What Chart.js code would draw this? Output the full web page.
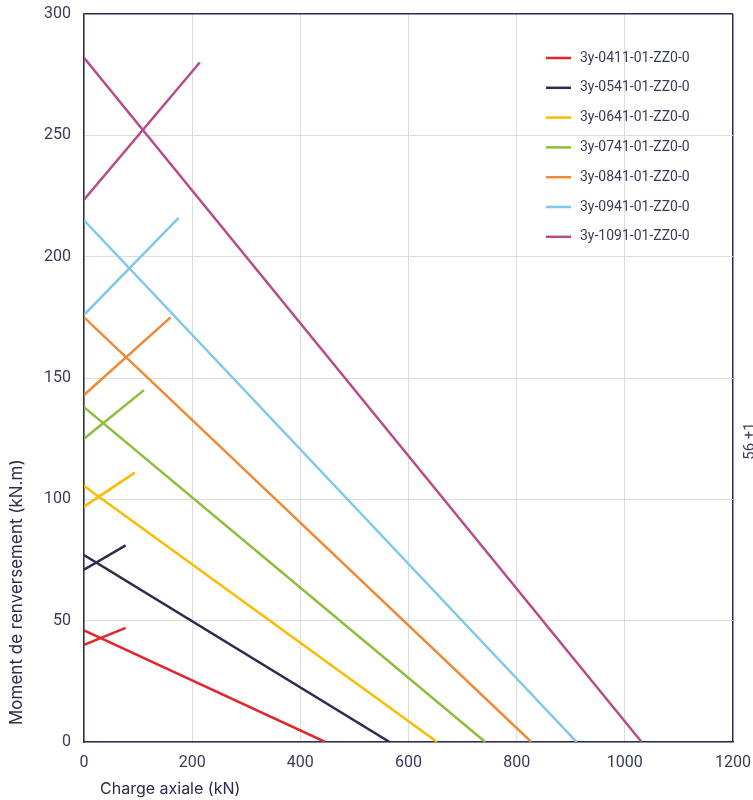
<!DOCTYPE html>
<html lang="fr">
  <head>
    <meta charset="UTF-8" />
    <title>Moment de renversement / charge axiale</title>
    <style>
      html, body { margin: 0; padding: 0; background: #fff; }
      #wrap { width: 753px; height: 800px; }
    </style>
  </head>
  <body>
    <div id="wrap"><canvas id="myChart" width="753" height="800"></canvas></div>

    <script src="https://cdn.jsdelivr.net/npm/chart.js@4.4.1/dist/chart.umd.min.js"></script>
    <script>
      // one entry per model
      var models = [
        "3y-0411-01-ZZ0-0",
        "3y-0541-01-ZZ0-0",
        "3y-0641-01-ZZ0-0",
        "3y-0741-01-ZZ0-0",
        "3y-0841-01-ZZ0-0",
        "3y-0941-01-ZZ0-0",
        "3y-1091-01-ZZ0-0",
      ];
      // falling line: moment at zero load (kN.m) and load at zero moment (kN)
      var fallMoment = [46, 77, 105.5, 138, 175, 215, 282];
      var fallLoad = [446, 565, 653, 742, 827, 911, 1031];
      // rising line: moment at zero load, end load, end moment
      var riseMoment = [40, 71, 97, 125, 143, 176, 223.5];
      var riseLoad = [77, 77, 94, 111, 160, 175, 214];
      var riseEndMoment = [47, 81, 111, 145, 175, 216, 280];

      var xTicks = [0, 200, 400, 600, 800, 1000, 1200];
      var yTicks = [0, 50, 100, 150, 200, 250, 300];

      var colors = ["#e3262b", "#2b2c4e", "#fbbb00", "#8cbd3f", "#f08935", "#7dc8ec", "#b84c8b"];
      var ink = "#3a3a5c";
      var navy = "#2b2c50";

      var datasets = [];
      for (let i = 0; i < models.length; i++) {
        datasets.push({
          label: models[i],
          data: [{ x: 0, y: fallMoment[i] }, { x: fallLoad[i], y: 0 }],
          borderColor: colors[i],
          backgroundColor: colors[i],
          borderWidth: 2.5,
          pointRadius: 0,
        });
        datasets.push({
          label: models[i] + " ",
          data: [{ x: 0, y: riseMoment[i] }, { x: riseLoad[i], y: riseEndMoment[i] }],
          borderColor: colors[i],
          backgroundColor: colors[i],
          borderWidth: 2.5,
          pointRadius: 0,
        });
      }

      // legend drawn inside the plot, top right
      var insideLegend = {
        id: "insideLegend",
        afterDraw: function (chart) {
          var ctx = chart.ctx;
          var area = chart.chartArea;
          var x0 = area.right - 187;
          ctx.save();
          ctx.font = "14px Roboto";
          ctx.textBaseline = "middle";
          for (let i = 0; i < models.length; i++) {
            var y = area.top + 44 + i * 29.8;
            ctx.strokeStyle = colors[i];
            ctx.lineWidth = 2.5;
            ctx.beginPath();
            ctx.moveTo(x0, y);
            ctx.lineTo(x0 + 25, y);
            ctx.stroke();
            ctx.fillStyle = ink;
            ctx.fillText(models[i], x0 + 34, y);
          }
          // cropped side note
          ctx.translate(750, 441);
          ctx.rotate(-Math.PI / 2);
          ctx.textAlign = "center";
          ctx.font = "15px Roboto";
          ctx.fillText("56 +1", 0, 0);
          ctx.restore();
        },
      };

      var ctx = document.getElementById("myChart").getContext("2d");
      var myChart = new Chart(ctx, {
        type: "line",
        data: { datasets: datasets },
        plugins: [insideLegend],
        options: {
          responsive: false,
          animation: false,
          layout: { padding: { top: 14, right: 20, left: 0, bottom: 0 } },
          plugins: {
            legend: { display: false },
            tooltip: { enabled: false },
          },
          scales: {
            x: {
              type: "linear",
              min: 0,
              max: 1200,
              afterBuildTicks: function (axis) {
                axis.ticks = xTicks.map(function (v) { return { value: v }; });
              },
              afterFit: function (axis) {
                axis.height = 58;
                axis.paddingLeft = 0;
                axis.paddingRight = 0;
              },
              grid: {
                color: function (c) { return c.tick.value === 1200 ? navy : "#dcdcdc"; },
                lineWidth: function (c) { return c.tick.value === 1200 ? 1.5 : 1; },
                drawTicks: false,
              },
              border: { color: navy, width: 1.5 },
              ticks: {
                color: ink,
                font: { family: "Roboto", size: 16 },
                padding: 11,
                callback: function (v) { return String(v); },
              },
              title: {
                display: true,
                text: "\u2003Charge axiale (kN)",
                align: "start",
                color: navy,
                font: { family: "Inter", size: 16 },
                padding: { top: 7, bottom: 1 },
              },
            },
            y: {
              type: "linear",
              min: 0,
              max: 300,
              afterBuildTicks: function (axis) {
                axis.ticks = yTicks.map(function (v) { return { value: v }; });
              },
              afterFit: function (axis) {
                axis.width = 84;
                axis.paddingTop = 0;
                axis.paddingBottom = 0;
              },
              grid: {
                color: function (c) { return c.tick.value === 300 ? navy : "#dcdcdc"; },
                lineWidth: function (c) { return c.tick.value === 300 ? 1.5 : 1; },
                drawTicks: false,
              },
              border: { color: navy, width: 1.5 },
              ticks: {
                color: ink,
                font: { family: "Roboto", size: 16 },
                padding: 13,
                callback: function (v) { return String(v); },
              },
              title: {
                display: true,
                text: "\u2003Moment de renversement (kN.m)",
                align: "start",
                color: navy,
                font: { family: "Inter", size: 17 },
                padding: { top: 7, bottom: 8 },
              },
            },
          },
        },
      });
    </script>
  </body>
</html>
